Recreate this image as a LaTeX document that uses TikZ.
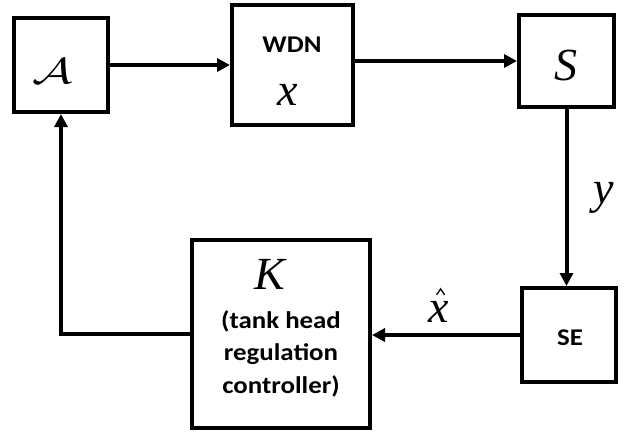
\RequirePackage{fix-cm}
\documentclass[tikz,border=0pt]{standalone}
\usepackage{graphicx}
\usepackage{fontspec}
\newfontfamily\calibri{Carlito}[FakeStretch=1.12]
\newfontfamily\symfont{Liberation Serif}
\usetikzlibrary{positioning,arrows.meta}

\begin{document}
\begin{tikzpicture}[
    x=1pt, y=-1pt,
    line width=4pt,
    block/.style={draw=black, line width=4pt, inner sep=0pt},
    blabel/.style={font=\calibri\bfseries\fontsize{24}{32.5}\selectfont, align=center, inner sep=0pt},
    sym/.style={font=\symfont\itshape\fontsize{46}{46}\selectfont, inner sep=0pt},
    sig/.style={-{Triangle[length=13pt,width=13pt]}, line width=4pt},
  ]
    \useasboundingbox (0,0) rectangle (624,432);

    %── blocks ──────────────────────────────────────────────────────────
    \node[block, minimum width=94pt,  minimum height=94pt]  (act) at (61,65) {};
    \node[block, minimum width=121pt, minimum height=120pt] (wdn) at (292.5,65) {};
    \node[block, minimum width=95pt,  minimum height=92pt]  (sen) at (566.5,61) {};
    \node[block, minimum width=94pt,  minimum height=94pt]  (est) at (569,335) {};
    \node[block, minimum width=178pt, minimum height=188pt] (ctl) at (281,334) {};

    %── texts in the blocks ─────────────────────────────────────────────
    \node[inner sep=0pt, anchor=base, font=\fontsize{36}{36}\selectfont] (actt) at (53,83)
      {\scalebox{1.4}[1]{$\mathcal{A}$}};
    \node[blabel, anchor=base] (wdnt) at (292,52) {WDN};
    \node[sym, anchor=base] (wdnx) at (288,105) {x};
    \node[sym, anchor=base] (sent) at (566,80) {S};
    \node[blabel, anchor=base] (estt) at (570,345) {SE};
    \node[sym, anchor=base] (ctlk) at (270,289) {K};
    \node[blabel, anchor=base] (ctlt) at (281,393)
      {(tank head\\regulation\\controller)};

    %── signals ─────────────────────────────────────────────────────────
    \draw[sig] (act.east) -- (act.east -| wdn.west);
    \draw[sig] (wdn.east |- sen.west) -- (sen.west);
    \draw[sig] (sen.south) -- (sen.south |- est.north)
      node[pos=0.5, right=25pt, sym] (ylab) {y};
    \draw[sig] (est.west) -- (est.west -| ctl.east)
      node[pos=0.55, above=11pt, sym] (xlab) {x};
    % hat over x
    \draw[line width=1.3pt, line join=miter]
      ([shift={(-2,-4)}]xlab.north) -- ([shift={(2,-10)}]xlab.north) -- ([shift={(6,-4)}]xlab.north);
    \draw[sig] (ctl.west) -| (act.south);

\end{tikzpicture}
\end{document}
